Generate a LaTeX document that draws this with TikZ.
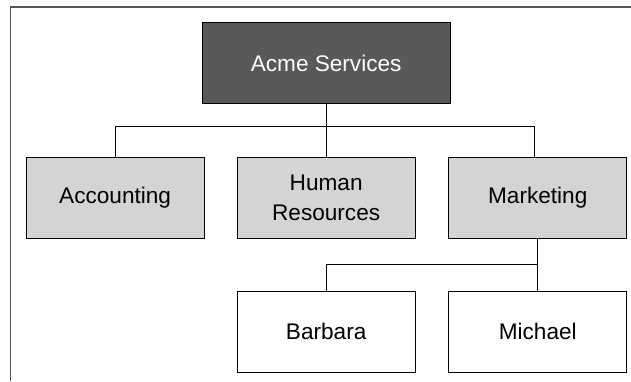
\documentclass[tikz,border=0pt]{standalone}
\usepackage{fontspec}
\setmainfont{Liberation Sans}
\definecolor{topfill}{HTML}{58595B}
\definecolor{deptfill}{HTML}{D3D4D5}
\definecolor{framegray}{HTML}{555555}
\begin{document}
\begin{tikzpicture}[x=1pt,y=-1pt,
  orgbox/.style={draw=black, line width=0.9pt, minimum width=178pt, minimum height=81pt,
    inner sep=0pt, font=\fontsize{22.6}{30}\selectfont, align=center, anchor=north west},
  topbox/.style={orgbox, fill=topfill, text=white, minimum width=248pt},
  deptbox/.style={orgbox, fill=deptfill},
  personbox/.style={orgbox, fill=white},
  link/.style={draw=black, line width=0.9pt}]
\useasboundingbox (0,0) rectangle (631,381);
% partial frame: top and left edges
\draw[framegray, line width=1.4pt] (10.7,381) -- (10.7,7) -- (631,7);
% boxes
\node[topbox] (acme) at (201.7,22.3) {Acme Services};
\node[deptbox] (acc) at (25.7,156.7) {Accounting};
\node[deptbox] (hr) at (236.7,156.7) {Human\\Resources};
\node[deptbox] (mkt) at (448.3,156.7) {Marketing};
\node[personbox] (barb) at (236.7,290.7) {Barbara};
\node[personbox] (mich) at (448.3,290.7) {Michael};
% connectors
\coordinate (bus1) at (0,126);
\coordinate (bus2) at (0,264);
\draw[link] (acme.south) -- (hr.north);
\draw[link] (acc.north) -- (acc.north |- bus1) -- ([xshift=-3pt]mkt.north |- bus1) -- ([xshift=-3pt]mkt.north);
\draw[link] (mkt.south) -- (mich.north);
\draw[link] (barb.north) -- (barb.north |- bus2) -- (mkt.south |- bus2);
\end{tikzpicture}
\end{document}
